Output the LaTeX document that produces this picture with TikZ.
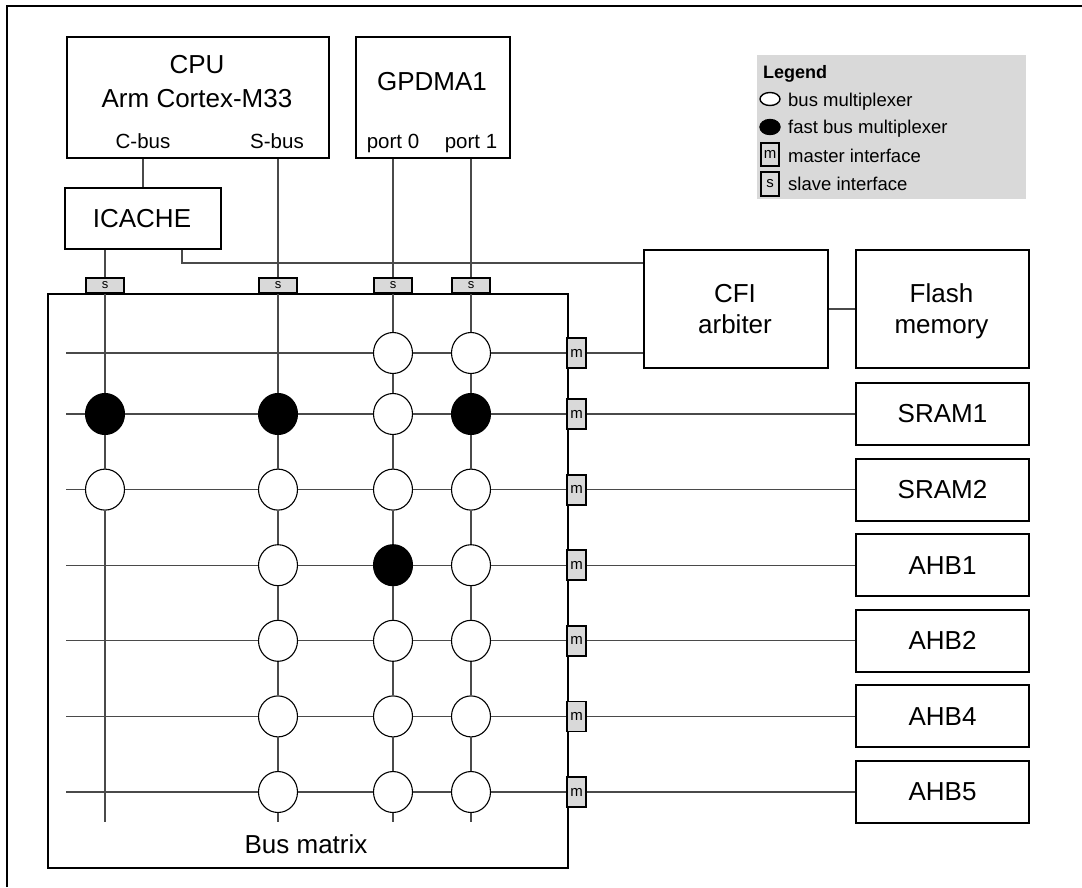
\documentclass[tikz,border=0pt]{standalone}
\usepackage{fontspec}
\setmainfont{Liberation Sans}
\usetikzlibrary{shapes.geometric}
\definecolor{lgray}{HTML}{D9D9D9}
\definecolor{wirec}{HTML}{4A4A4A}
\begin{document}
\begin{tikzpicture}[x=1pt,y=-1pt,
  blk/.style={draw=black, line width=2pt, rectangle, inner sep=0pt, anchor=north west},
  lbl/.style={font=\fontsize{26}{26}\selectfont, anchor=base, inner sep=0pt},
  sml/.style={font=\fontsize{20.5}{20}\selectfont, anchor=base, inner sep=0pt},
  leg/.style={font=\fontsize{18.5}{18}\selectfont, anchor=base west, inner sep=0pt},
  wire/.style={draw=wirec, line width=1.3pt},
  mux/.style={draw=black, line width=1.1pt, fill=white, ellipse, minimum width=39pt, minimum height=41pt, inner sep=0pt},
  fmux/.style={mux, fill=black},
  sif/.style={draw=black, line width=1.8pt, fill=lgray, rectangle, minimum width=38pt, minimum height=15pt, inner sep=0pt, font=\fontsize{13}{13}\selectfont},
  mif/.style={draw=black, line width=1.8pt, fill=lgray, rectangle, minimum width=19pt, minimum height=30pt, inner sep=0pt, font=\fontsize{15}{15}\selectfont},
  tgt/.style={blk, anchor=west, minimum width=173pt, minimum height=62pt, font=\fontsize{26}{26}\selectfont},
]
\useasboundingbox (0,0) rectangle (1082,887);
% outer frame (cut)
\draw[line width=2.6pt] (7,887) -- (7,6) -- (1082,6);

% legend
\fill[lgray] (757,55) rectangle (1026,199);
\node[font=\bfseries\fontsize{18}{18}\selectfont, anchor=base west, inner sep=0pt] (legt) at (763,78) {Legend};
\node[draw=black, line width=1.4pt, fill=white, ellipse, minimum width=20pt, minimum height=13pt, inner sep=0pt] (lw) at (770,99) {};
\node[draw=black, line width=1.4pt, fill=black, ellipse, minimum width=20pt, minimum height=15pt, inner sep=0pt] (lb) at (770,127) {};
\node[draw=black, line width=1.8pt, fill=lgray, minimum width=18pt, minimum height=23pt, inner sep=0pt, font=\fontsize{15}{15}\selectfont] (lm) at (770,154.5) {m};
\node[draw=black, line width=1.8pt, fill=lgray, minimum width=18pt, minimum height=24pt, inner sep=0pt, font=\fontsize{15}{15}\selectfont] (ls) at (770,184) {s};
\node[leg] (lwt) at (788,106) {bus multiplexer};
\node[leg] (lbt) at (788,133) {fast bus multiplexer};
\node[leg] (lmt) at (788,162) {master interface};
\node[leg] (lst) at (788,190) {slave interface};

% top blocks
\node[blk, minimum width=262pt, minimum height=121pt] (cpu) at (66,36) {};
\node[lbl] (cput) at (197,73) {CPU};
\node[lbl] (cpum) at (197,107) {Arm Cortex-M33};
\node[sml] (cbus) at (143,148) {C-bus};
\node[sml] (sbus) at (277,148) {S-bus};
\node[blk, minimum width=154pt, minimum height=121pt] (gpdma) at (355,36) {};
\node[lbl] (gpdmat) at (432,90) {GPDMA1};
\node[sml] (p0t) at (393,148) {port 0};
\node[sml] (p1t) at (471,148) {port 1};
\node[blk, minimum width=156pt, minimum height=61pt] (icache) at (64,187) {};
\node[lbl] (icachet) at (142,227) {ICACHE};
\node[blk, minimum width=184pt, minimum height=118pt] (cfi) at (643,249) {};
\node[lbl] (cfit1) at (735,302) {CFI};
\node[lbl] (cfit2) at (735,333) {arbiter};
\node[blk, minimum width=173pt, minimum height=118pt] (flash) at (855,249) {};
\node[lbl] (flt1) at (941.5,302) {Flash};
\node[lbl] (flt2) at (941.5,333) {memory};

% bus matrix
\node[blk, minimum width=520pt, minimum height=574pt] (bm) at (47,293) {};
\node[lbl] (bmt) at (306,853) {Bus matrix};

% slave interfaces
\node[sif] (sC) at (105,285.5) {s};
\node[sif] (sS) at (278,285.5) {s};
\node[sif] (sP) at (393,285.5) {s};
\node[sif] (sQ) at (471,285.5) {s};

% master interfaces and targets
\node[mif] (m1) at (576.5,353) {m};
\node[mif] (m2) at (576.5,414) {m};
\node[mif] (m3) at (576.5,489.6) {m};
\node[mif] (m4) at (576.5,565.2) {m};
\node[mif] (m5) at (576.5,640.8) {m};
\node[mif] (m6) at (576.5,716.4) {m};
\node[mif] (m7) at (576.5,792) {m};
\node[tgt] (t2) at (855,414) {SRAM1};
\node[tgt] (t3) at (855,489.6) {SRAM2};
\node[tgt] (t4) at (855,565.2) {AHB1};
\node[tgt] (t5) at (855,640.8) {AHB2};
\node[tgt] (t6) at (855,716.4) {AHB4};
\node[tgt] (t7) at (855,792) {AHB5};

% multiplexers
\node[mux] (c1P) at (393,353) {};
\node[mux] (c1Q) at (471,353) {};
\node[fmux] (c2C) at (105,414) {};
\node[fmux] (c2S) at (278,414) {};
\node[mux] (c2P) at (393,414) {};
\node[fmux] (c2Q) at (471,414) {};
\node[mux] (c3C) at (105,489.6) {};
\node[mux] (c3S) at (278,489.6) {};
\node[mux] (c3P) at (393,489.6) {};
\node[mux] (c3Q) at (471,489.6) {};
\node[mux] (c4S) at (278,565.2) {};
\node[fmux] (c4P) at (393,565.2) {};
\node[mux] (c4Q) at (471,565.2) {};
\node[mux] (c5S) at (278,640.8) {};
\node[mux] (c5P) at (393,640.8) {};
\node[mux] (c5Q) at (471,640.8) {};
\node[mux] (c6S) at (278,716.4) {};
\node[mux] (c6P) at (393,716.4) {};
\node[mux] (c6Q) at (471,716.4) {};
\node[mux] (c7S) at (278,792) {};
\node[mux] (c7P) at (393,792) {};
\node[mux] (c7Q) at (471,792) {};

% coordinates
\coordinate (eC) at (105,822);
\coordinate (eS) at (278,822);
\coordinate (eP) at (393,822);
\coordinate (eQ) at (471,822);
\coordinate (r1) at (66,353);
\coordinate (r2) at (66,414);
\coordinate (r3) at (66,489.6);
\coordinate (r4) at (66,565.2);
\coordinate (r5) at (66,640.8);
\coordinate (r6) at (66,716.4);
\coordinate (r7) at (66,792);
\coordinate (icx) at (182,263);

% connectors above the matrix
\draw[wire] (cpu.south -| icache.north) -- (icache.north);
\draw[wire] (icache.south -| sC.north) -- (sC.north);
\draw[wire] (icache.south -| icx) -- (icx) -- (icx -| cfi.west);
\draw[wire] (cpu.south -| sS.north) -- (sS.north);
\draw[wire] (gpdma.south -| sP.north) -- (sP.north);
\draw[wire] (gpdma.south -| sQ.north) -- (sQ.north);
\draw[wire] (cfi) -- (flash);

% columns
\draw[wire] (sC) -- (c2C) -- (c3C) -- (eC);
\draw[wire] (sS) -- (c2S) -- (c3S) -- (c4S) -- (c5S) -- (c6S) -- (c7S) -- (eS);
\draw[wire] (sP) -- (c1P) -- (c2P) -- (c3P) -- (c4P) -- (c5P) -- (c6P) -- (c7P) -- (eP);
\draw[wire] (sQ) -- (c1Q) -- (c2Q) -- (c3Q) -- (c4Q) -- (c5Q) -- (c6Q) -- (c7Q) -- (eQ);

% rows
\draw[wire] (r1) -- (c1P) -- (c1Q) -- (m1);
\draw[wire] (r2) -- (c2C) -- (c2S) -- (c2P) -- (c2Q) -- (m2);
\draw[wire] (r3) -- (c3C) -- (c3S) -- (c3P) -- (c3Q) -- (m3);
\draw[wire] (r4) -- (c4S) -- (c4P) -- (c4Q) -- (m4);
\draw[wire] (r5) -- (c5S) -- (c5P) -- (c5Q) -- (m5);
\draw[wire] (r6) -- (c6S) -- (c6P) -- (c6Q) -- (m6);
\draw[wire] (r7) -- (c7S) -- (c7P) -- (c7Q) -- (m7);

% master interface to targets
\draw[wire] (m1) -- (m1 -| cfi.west);
\draw[wire] (m2) -- (t2);
\draw[wire] (m3) -- (t3);
\draw[wire] (m4) -- (t4);
\draw[wire] (m5) -- (t5);
\draw[wire] (m6) -- (t6);
\draw[wire] (m7) -- (t7);
\end{tikzpicture}
\end{document}
